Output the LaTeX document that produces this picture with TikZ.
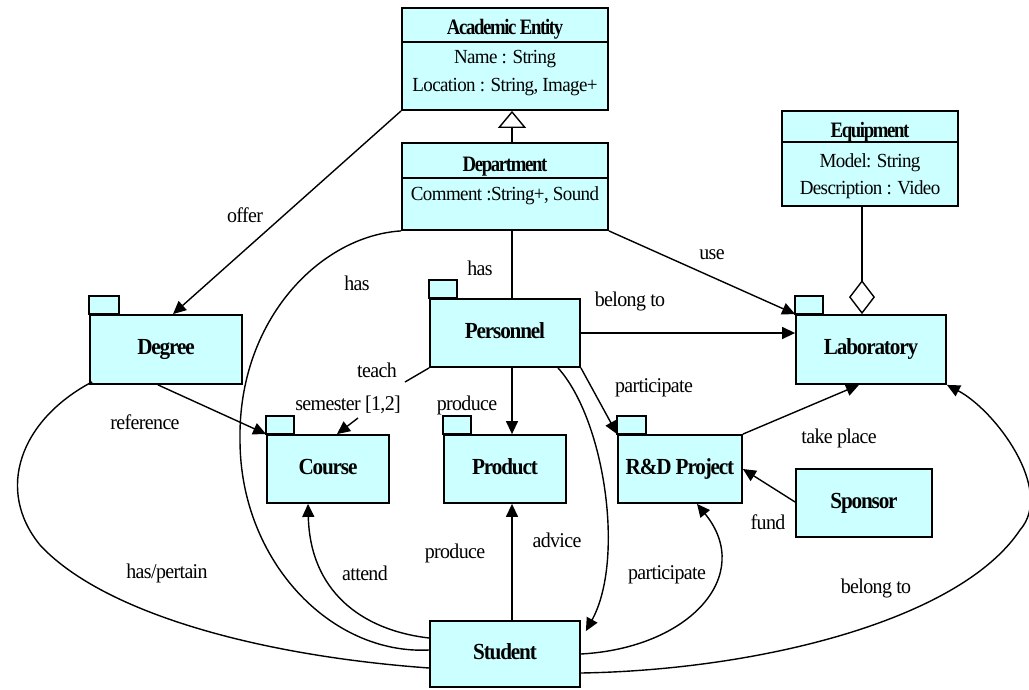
\documentclass[tikz,border=0pt]{standalone}
\usepackage{fontspec}
\setmainfont{Liberation Serif}
\newfontfamily\lblf[FakeStretch=0.95,LetterSpace=-3]{Liberation Serif}
\newfontfamily\attrf[FakeStretch=0.95,LetterSpace=-3]{Liberation Serif}
\newfontfamily\hdrf[FakeStretch=0.85,LetterSpace=-6]{Liberation Serif}
\newfontfamily\pkgf[FakeStretch=0.92,LetterSpace=-5]{Liberation Serif}
\usetikzlibrary{arrows.meta,calc}
\definecolor{boxc}{HTML}{CCFFFF}
\tikzset{
  cls/.style={draw, line width=1.8pt, fill=boxc, inner sep=0pt},
  pkg/.style={draw, line width=1.8pt, fill=boxc, inner sep=0pt, text height=16pt, text depth=6pt,
    font=\pkgf\bfseries\fontsize{23}{25}\selectfont},
  tabst/.style={draw, line width=1.8pt, fill=boxc},
  divline/.style={line width=1.8pt},
  hdr/.style={anchor=base, inner sep=0pt, font=\hdrf\bfseries\fontsize{22}{24}\selectfont},
  attr/.style={anchor=base, inner sep=0pt, font=\attrf\fontsize{20}{22}\selectfont},
  lbl/.style={inner sep=1pt, font=\lblf\fontsize{21}{23}\selectfont},
  conn/.style={line width=1.4pt},
  arr/.style={conn, -{Triangle[length=13pt,width=12pt]}},
}
\begin{document}
\begin{tikzpicture}[x=1pt,y=-1pt]
\useasboundingbox (0,0) rectangle (1029,689);

% ---------- classes ----------
\node[cls, minimum width=206pt, minimum height=102pt] (ae) at (505,59) {};
\draw[divline] ([yshift=-35pt]ae.north west) -- ([yshift=-35pt]ae.north east);
\node[hdr] (aeh) at (505,34) {Academic Entity};
\node[attr] (aea1) at (505,63) {Name : String};
\node[attr] (aea2) at (505,91) {Location : String, Image+};

\node[cls, minimum width=206pt, minimum height=87pt] (dept) at (505,186.5) {};
\draw[divline] ([yshift=-36pt]dept.north west) -- ([yshift=-36pt]dept.north east);
\node[hdr] (depth) at (505,171) {Department};
\node[attr] (depta) at (505,200) {Comment :String+, Sound};

\node[cls, minimum width=176pt, minimum height=95pt] (eq) at (870,158.5) {};
\draw[divline] ([yshift=-32pt]eq.north west) -- ([yshift=-32pt]eq.north east);
\node[hdr] (eqh) at (870,137) {Equipment};
\node[attr] (eqa1) at (870,167) {Model: String};
\node[attr] (eqa2) at (870,194) {Description : Video};

% ---------- packages ----------
\node[pkg, minimum width=152pt, minimum height=69pt] (deg) at (166,349.5) {Degree};
\draw[tabst] (deg.north west) rectangle ++(30,-18);
\node[pkg, minimum width=150pt, minimum height=68pt] (pers) at (505,333) {Personnel};
\draw[tabst] (pers.north west) rectangle ++(28,-18);
\node[pkg, minimum width=150pt, minimum height=69pt] (lab) at (871,349.5) {Laboratory};
\draw[tabst] (lab.north west) rectangle ++(28,-18);
\node[pkg, minimum width=122pt, minimum height=68pt] (course) at (328,469) {Course};
\draw[tabst] (course.north west) rectangle ++(28,-18);
\node[pkg, minimum width=122pt, minimum height=68pt] (prod) at (505,469) {Product};
\draw[tabst] (prod.north west) rectangle ++(28,-18);
\node[pkg, minimum width=124pt, minimum height=68pt] (rd) at (680,469) {R\&D Project};
\draw[tabst] (rd.north west) rectangle ++(29,-18);
\node[pkg, minimum width=136pt, minimum height=68pt] (spon) at (864,503) {Sponsor};
\node[pkg, minimum width=150pt, minimum height=66pt] (stu) at (505,654) {Student};

% ---------- generalization / aggregation ----------
\draw[conn, -{Triangle[open,length=17pt,width=28pt,fill=white]}] ([xshift=7pt]dept.north) -- ([xshift=7pt]ae.south);
\draw[conn, -{Diamond[open,length=34pt,width=26pt,fill=white]}] ([xshift=-8pt]eq.south) -- ([xshift=-9pt]lab.north);

% ---------- straight connectors ----------
\draw[arr] (ae.south west) -- ([xshift=7pt]deg.north);
\draw[arr] (dept.south east) -- (lab.north west);
\draw[conn] ([xshift=7pt]dept.south) -- ([xshift=7pt]pers.north);
\draw[arr] (pers.east) -- (pers.east -| lab.west);
\coordinate (tg1) at (405,382);
\coordinate (tg2) at (358,418);
\draw[conn] (pers.south west) -- (tg1);
\draw[arr] (tg2) -- ([xshift=9pt]course.north);
\draw[arr] ([xshift=7pt]pers.south) -- ([xshift=7pt]prod.north);
\draw[arr] (pers.south east) -- (rd.north west);
\draw[arr] ([xshift=-8pt]deg.south) -- (course.north west);
\draw[arr] (rd.north east) -- ([xshift=-12pt]lab.south);
\draw[arr] ([yshift=1pt]spon.west) -- (rd.east);
\draw[arr] ([xshift=7pt]stu.north) -- ([xshift=7pt]prod.south);

% ---------- curved connectors ----------
\coordinate (hasmid) at (240,440);
\draw[conn] (dept.south west) .. controls (320,236) and (238,320) .. (hasmid)
  .. controls (240,560) and (330,655) .. ([yshift=4pt]stu.west);
\coordinate (hpmid) at (40,545);
\draw[conn] ([xshift=3pt,yshift=3pt]deg.south west) .. controls (20,420) and (-5,490) .. (hpmid)
  .. controls (100,610) and (250,655) .. ([yshift=-14pt]stu.west);
\draw[arr] ([yshift=16pt]stu.west) .. controls (360,630) and (310,590) .. ([xshift=-20pt]course.south);
\draw[arr] ([xshift=53pt]pers.south) .. controls (605,420) and (625,560) .. ([xshift=5pt,yshift=-11pt]stu.north east);
\draw[arr] (stu.east) .. controls (690,648) and (755,575) .. ([xshift=17pt]rd.south);
\coordinate (blmid) at (1020,530);
\draw[arr] ([yshift=-19pt]stu.east) .. controls (760,670) and (960,620) .. (blmid)
  .. controls (1055,490) and (995,410) .. (lab.south east);

% ---------- labels ----------
\node[lbl] (l1) at (245,215) {offer};
\node[lbl] (l2) at (712,255) {use};
\node[lbl] (l3) at (480,268) {has};
\node[lbl] (l4) at (357,283) {has};
\node[lbl] (l5) at (630,301) {belong to};
\node[lbl] (l6) at (377,370) {teach};
\node[lbl] (l7) at (348,405) {semester [1,2]};
\node[lbl] (l8) at (467,405) {produce};
\node[lbl] (l9) at (654,388) {participate};
\node[lbl] (l10) at (145,422) {reference};
\node[lbl] (l11) at (839,438) {take place};
\node[lbl] (l12) at (768,522) {fund};
\node[lbl] (l13) at (365,573) {attend};
\node[lbl] (l14) at (455,553) {produce};
\node[lbl] (l15) at (557,540) {advice};
\node[lbl] (l16) at (667,575) {participate};
\node[lbl] (l17) at (167,573) {has/pertain};
\node[lbl] (l18) at (876,588) {belong to};
\end{tikzpicture}
\end{document}
